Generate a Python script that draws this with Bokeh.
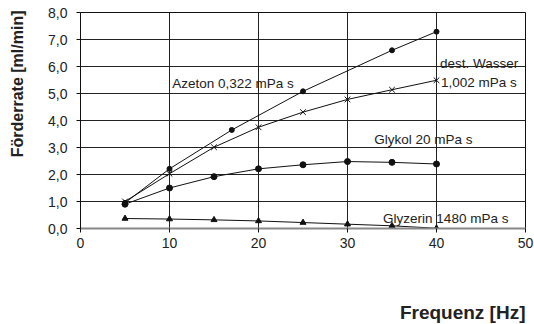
from bokeh.plotting import figure
from bokeh.models import Label, FixedTicker, Title
from bokeh.embed import file_html
from bokeh.resources import INLINE

# Data
azeton_x = [5, 10, 17, 25, 35, 40]
azeton_y = [0.95, 2.21, 3.65, 5.08, 6.60, 7.29]

wasser_x = [5, 10, 15, 20, 25, 30, 35, 40]
wasser_y = [1.00, 2.03, 3.01, 3.75, 4.31, 4.78, 5.14, 5.49]

glykol_x = [5, 10, 15, 20, 25, 30, 35, 40]
glykol_y = [0.90, 1.50, 1.92, 2.21, 2.36, 2.48, 2.45, 2.39]

glyzerin_x = [5, 10, 15, 20, 25, 30, 35, 40]
glyzerin_y = [0.37, 0.35, 0.32, 0.28, 0.22, 0.16, 0.10, 0.01]

x_ticks = [0, 10, 20, 30, 40, 50]
y_ticks = [0, 1, 2, 3, 4, 5, 6, 7, 8]
y_tick_labels = ["0,0", "1,0", "2,0", "3,0", "4,0", "5,0", "6,0", "7,0", "8,0"]

FONT = "Liberation Sans"

p = figure(width=534, height=324, output_backend="svg", toolbar_location=None,
           x_range=(0, 50), y_range=(0, 8))
p.min_border_left = 80
p.min_border_right = 9
p.min_border_top = 12
p.min_border_bottom = 96
p.background_fill_color = "white"
p.border_fill_color = "white"
p.outline_line_color = "#111111"
p.outline_line_width = 1

p.xaxis.ticker = FixedTicker(ticks=x_ticks)
p.yaxis.ticker = FixedTicker(ticks=y_ticks)
p.yaxis.major_label_overrides = {t: lab for t, lab in zip(y_ticks, y_tick_labels)}
for ax in (p.xaxis, p.yaxis):
    ax.major_label_text_font = FONT
    ax.major_label_text_font_size = "14px"
    ax.major_label_text_color = "#222222"
    ax.major_tick_in = 0
    ax.major_tick_out = 4
    ax.minor_tick_line_color = None
    ax.major_tick_line_color = "#111111"
p.xaxis.major_label_standoff = 5
p.yaxis.major_label_standoff = 9
p.yaxis.axis_line_color = "#111111"
p.xaxis.axis_line_color = "#888888"
p.xaxis.axis_line_width = 2

p.xgrid.ticker = FixedTicker(ticks=x_ticks)
p.ygrid.ticker = FixedTicker(ticks=y_ticks)
p.xgrid.grid_line_color = "#222222"
p.ygrid.grid_line_color = "#222222"
p.xgrid.grid_line_width = 1
p.ygrid.grid_line_width = 1

lc = "#111111"
p.line(azeton_x, azeton_y, line_color=lc, line_width=1)
p.scatter(azeton_x, azeton_y, marker="circle", size=5, color=lc)

p.line(wasser_x, wasser_y, line_color=lc, line_width=1)
p.scatter(wasser_x, wasser_y, marker="x", size=8, line_color=lc, line_width=1)

p.line(glykol_x, glykol_y, line_color=lc, line_width=1)
p.scatter(glykol_x, glykol_y, marker="circle", size=6, color=lc)

p.line(glyzerin_x, glyzerin_y, line_color=lc, line_width=1)
p.scatter(glyzerin_x, glyzerin_y, marker="triangle", size=6, color=lc)

def note(x, y, txt):
    p.add_layout(Label(x=x, y=y, text=txt, text_font=FONT, text_font_size="13.5px",
                       text_color="#222222", text_baseline="alphabetic"))

note(10.3, 5.38, "Azeton 0,322 mPa s")
note(40.4, 6.11, "dest. Wasser")
note(40.5, 5.40, "1,002 mPa s")
note(33.0, 3.30, "Glykol 20 mPa s")
note(34.0, 0.36, "Glyzerin 1480 mPa s")

# Axis titles (spacer titles push them out to the reference positions)
p.add_layout(Title(text=" ", text_font_size="1px", standoff=17), "left")
p.add_layout(Title(text="Förderrate [ml/min]", align="right", offset=-2, standoff=0,
                   text_font=FONT, text_font_size="16px", text_font_style="bold",
                   text_color="#222222"), "left")
p.add_layout(Title(text=" ", text_font_size="1px", standoff=46), "below")
p.add_layout(Title(text="Frequenz [Hz]", align="right", offset=0, standoff=0,
                   text_font=FONT, text_font_size="19px", text_font_style="bold",
                   text_color="#222222"), "below")

open("out.html", "w").write(file_html(p, INLINE))
